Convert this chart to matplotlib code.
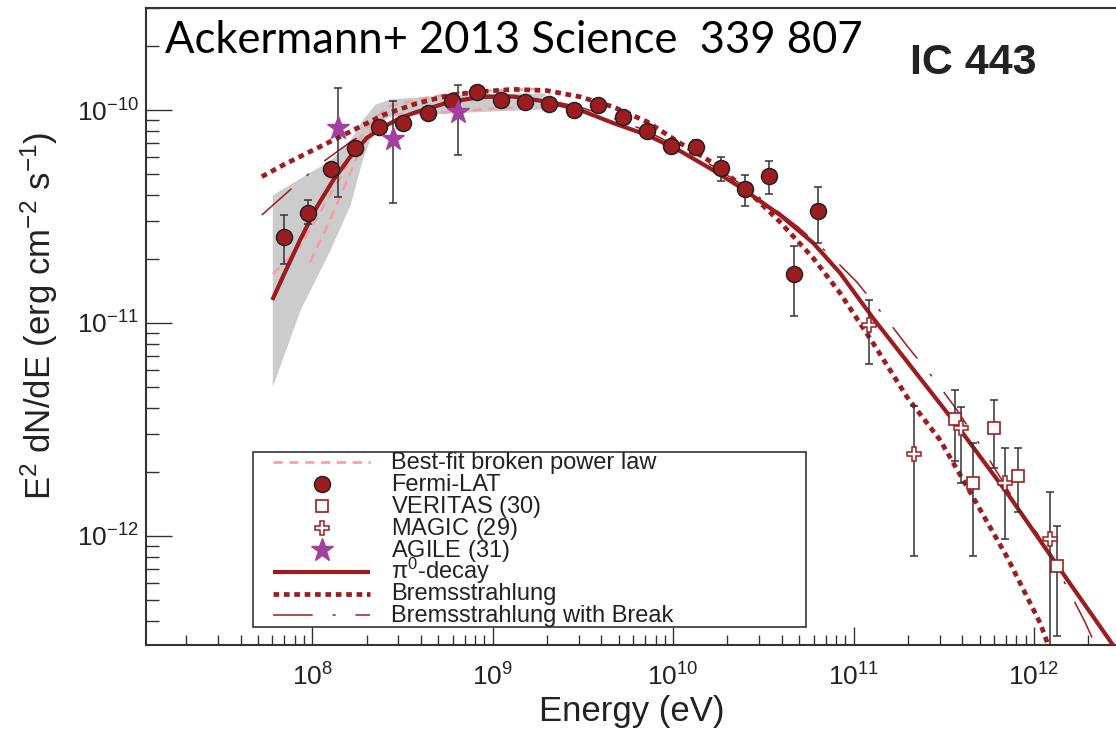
import numpy as np
import matplotlib
matplotlib.use('Agg')
import matplotlib.pyplot as plt
from matplotlib.patches import Rectangle
from matplotlib.lines import Line2D
from matplotlib.ticker import NullFormatter, LogLocator

plt.rcParams['font.family'] = ['Liberation Sans', 'DejaVu Sans']
plt.rcParams['mathtext.fontset'] = 'custom'
plt.rcParams['mathtext.rm'] = 'Liberation Sans'
plt.rcParams['mathtext.it'] = 'Liberation Sans:italic'
plt.rcParams['mathtext.bf'] = 'Liberation Sans:bold'

# ── data points: energy (eV), E^2 dN/dE (erg cm^-2 s^-1), lower / upper bounds ──
fermi_E = [6.94e7, 9.43e7, 1.27e8, 1.73e8, 2.33e8, 3.19e8, 4.36e8, 5.93e8,
           8.15e8, 1.11e9, 1.51e9, 2.06e9, 2.82e9, 3.85e9, 5.26e9, 7.14e9,
           9.70e9, 1.34e10, 1.84e10, 2.50e10, 3.41e10, 4.68e10, 6.38e10]
fermi_F = [2.54e-11, 3.30e-11, 5.27e-11, 6.65e-11, 8.35e-11, 8.72e-11, 9.65e-11, 1.10e-10,
           1.22e-10, 1.11e-10, 1.09e-10, 1.07e-10, 1.00e-10, 1.055e-10, 9.30e-11, 7.97e-11,
           6.78e-11, 6.68e-11, 5.33e-11, 4.25e-11, 4.90e-11, 1.70e-11, 3.37e-11]
fermi_lo = [1.89e-11, 2.92e-11, 5.10e-11, 6.45e-11, 8.15e-11, 8.50e-11, 9.45e-11, 1.07e-10,
            1.19e-10, 1.08e-10, 1.06e-10, 1.04e-10, 0.97e-10, 1.02e-10, 8.95e-11, 7.60e-11,
            6.40e-11, 6.15e-11, 4.66e-11, 3.54e-11, 4.04e-11, 1.08e-11, 2.37e-11]
fermi_hi = [3.20e-11, 3.77e-11, 5.45e-11, 6.85e-11, 8.55e-11, 8.95e-11, 9.85e-11, 1.13e-10,
            1.25e-10, 1.14e-10, 1.12e-10, 1.10e-10, 1.03e-10, 1.09e-10, 9.65e-11, 8.35e-11,
            7.15e-11, 7.23e-11, 6.00e-11, 4.96e-11, 5.76e-11, 2.30e-11, 4.35e-11]

agile_E = [1.39e8, 2.79e8, 6.40e8]
agile_F = [8.20e-11, 7.31e-11, 9.75e-11]
agile_lo = [3.92e-11, 3.65e-11, 6.13e-11]
agile_hi = [1.27e-10, 1.106e-10, 1.31e-10]

magic_E = [1.22e11, 2.17e11, 3.93e11, 6.89e11, 1.22e12]
magic_F = [9.78e-12, 2.42e-12, 3.22e-12, 1.78e-12, 9.68e-13]
magic_lo = [6.42e-12, 8.05e-13, 1.77e-12, 9.68e-13, 2.0e-13]
magic_hi = [1.28e-11, 4.07e-12, 4.02e-12, 2.58e-12, 1.61e-12]

veritas_E = [3.65e11, 4.61e11, 6.01e11, 8.17e11, 1.34e12]
veritas_F = [3.54e-12, 1.78e-12, 3.22e-12, 1.92e-12, 7.23e-13]
veritas_lo = [2.25e-12, 8.05e-13, 2.09e-12, 1.29e-12, 3.39e-13]
veritas_hi = [4.85e-12, 2.72e-12, 4.34e-12, 2.58e-12, 1.11e-12]

# ── model curves, stored as log10(E) / log10(E^2 dN/dE) ──
pi0_logE = [7.778, 7.839, 7.932, 8.025, 8.116, 8.209, 8.302, 8.394, 8.486, 8.579,
            8.763, 8.946, 9.113, 9.301, 9.484, 9.667, 9.855, 10.038, 10.221, 10.371,
            10.593, 10.776, 10.925, 11.108, 11.563, 11.851, 12.128, 12.438, 12.477]
pi0_logF = [-10.892, -10.779, -10.610, -10.455, -10.329, -10.221, -10.131, -10.080, -10.038, -10.009,
            -9.962, -9.937, -9.937, -9.961, -10.000, -10.061, -10.117, -10.192, -10.282, -10.362,
            -10.493, -10.624, -10.765, -10.977, -11.469, -11.798, -12.136, -12.512, -12.535]

brems_logE = [7.720, 7.839, 8.024, 8.209, 8.394, 8.579, 8.763, 8.930, 9.113, 9.301,
              9.484, 9.667, 9.855, 10.038, 10.221, 10.409, 10.593, 10.776, 10.925, 11.108,
              11.296, 11.479, 11.662, 11.851, 12.034, 12.089]
brems_logF = [-10.313, -10.258, -10.180, -10.102, -10.023, -9.969, -9.930, -9.914, -9.903, -9.909,
              -9.938, -9.985, -10.055, -10.155, -10.249, -10.376, -10.526, -10.695, -10.859, -11.094,
              -11.347, -11.549, -11.817, -12.099, -12.408, -12.535]

brk_logE = [7.720, 7.886, 8.059, 8.226, 8.392, 8.581, 8.763, 8.946, 9.113, 9.301,
            9.484, 9.667, 9.855, 10.038, 10.221, 10.409, 10.520, 10.692, 10.869, 11.019,
            11.174, 11.302, 11.451, 11.573, 11.712, 11.812, 11.950, 12.017, 12.183, 12.283, 12.328]
brk_logF = [-10.493, -10.368, -10.244, -10.141, -10.066, -10.009, -9.972, -9.944, -9.939, -9.953,
            -9.986, -10.038, -10.099, -10.178, -10.263, -10.366, -10.437, -10.549, -10.681, -10.808,
            -10.972, -11.113, -11.268, -11.408, -11.587, -11.723, -11.915, -11.986, -12.239, -12.404, -12.488]

# broken power law: two dashed branches and the grey uncertainty band
bpl_a_logE = [7.782, 7.849, 7.932, 8.043, 8.154, 8.253, 8.331, 8.431, 8.597, 8.797, 8.946, 9.262]
bpl_a_logF = [-10.770, -10.714, -10.638, -10.479, -10.319, -10.150, -10.047, -9.981, -9.948, -9.920, -9.911, -9.901]
bpl_b_logE = [7.987, 8.081, 8.170, 8.264, 8.331, 8.403, 8.542, 8.691, 8.858, 9.024, 9.246]
bpl_b_logF = [-10.714, -10.549, -10.376, -10.188, -10.085, -10.028, -10.014, -10.013, -10.003, -9.992, -9.986]

band_logE = [7.778, 7.932, 8.098, 8.209, 8.276, 8.348, 8.431, 8.652, 8.874, 9.151, 9.290]
band_up_logF = [-10.399, -10.319, -10.235, -10.141, -10.047, -9.972, -9.948, -9.934, -9.925, -9.920, -9.920]
band_lo_logF = [-11.299, -10.939, -10.657, -10.446, -10.235, -10.070, -10.028, -10.019, -10.009, -10.000, -9.995]

legend_labels = ['Best-fit broken power law', 'Fermi-LAT', r'VERITAS ($\it{30}$)', r'MAGIC ($\it{29}$)',
                 r'AGILE ($\it{31}$)', r'$\mathrm{\pi}^{0}$-decay', 'Bremsstrahlung',
                 'Bremsstrahlung with Break']

DARKRED = '#9c1c20'
PINK = '#f5a0a0'
AGILE_C = '#a3409f'
GREY = '#333333'

# line / marker styles shared by the plot and the legend
sty_bpl = dict(color=PINK, lw=1.9, ls=(0, (3.5, 2.5)))
sty_pi0 = dict(color=DARKRED, lw=3.0, solid_capstyle='butt')
sty_brems = dict(color=DARKRED, lw=3.4, ls=(0, (1.2, 1.0)), dash_capstyle='butt')
sty_brk = dict(color=DARKRED, lw=1.1, ls=(0, (26, 13, 2, 13)))
sty_fermi = dict(marker='o', ms=11.5, mfc=DARKRED, mec='#222222', mew=1.1, ls='none')
sty_ver = dict(marker='s', ms=8.5, mfc='white', mec=DARKRED, mew=1.2, ls='none')
sty_mag = dict(marker='P', ms=9.5, mfc='white', mec=DARKRED, mew=1.1, ls='none')
sty_agile = dict(marker='*', ms=17, mfc=AGILE_C, mec=AGILE_C, ls='none')

fig = plt.figure(figsize=(11.16, 7.33), dpi=100)
ax = fig.add_axes([146 / 1116, 88 / 733, 972 / 1116, 637 / 733])
ax.set_xscale('log')
ax.set_yscale('log')

# uncertainty band and broken power law
ax.fill_between(10 ** np.array(band_logE), 10 ** np.array(band_lo_logF), 10 ** np.array(band_up_logF),
                color='#cccccc', lw=0, zorder=1)
ax.plot(10 ** np.array(bpl_a_logE), 10 ** np.array(bpl_a_logF), zorder=2, **sty_bpl)
ax.plot(10 ** np.array(bpl_b_logE), 10 ** np.array(bpl_b_logF), zorder=2, **sty_bpl)

# model curves
ax.plot(10 ** np.array(pi0_logE), 10 ** np.array(pi0_logF), zorder=3, **sty_pi0)
ax.plot(10 ** np.array(brems_logE), 10 ** np.array(brems_logF), zorder=3, **sty_brems)
ax.plot(10 ** np.array(brk_logE), 10 ** np.array(brk_logF), zorder=3, **sty_brk)

# error bars
err_kw = dict(fmt='none', ecolor=GREY, elinewidth=1.1, capsize=2.8, capthick=1.1, zorder=4)
for E, F, lo, hi in [(fermi_E, fermi_F, fermi_lo, fermi_hi),
                     (agile_E, agile_F, agile_lo, agile_hi),
                     (magic_E, magic_F, magic_lo, magic_hi),
                     (veritas_E, veritas_F, veritas_lo, veritas_hi)]:
    F = np.array(F)
    ax.errorbar(E, F, yerr=[F - np.array(lo), np.array(hi) - F], **err_kw)

# markers
ax.plot(fermi_E, fermi_F, zorder=5, **sty_fermi)
ax.plot(veritas_E, veritas_F, zorder=5, **sty_ver)
ax.plot(magic_E, magic_F, zorder=5, **sty_mag)
ax.plot(agile_E, agile_F, zorder=6, **sty_agile)

ax.set_xlim(10 ** 7.078, 10 ** 12.466)
ax.set_ylim(10 ** -12.512, 10 ** -9.521)

# axes frame and ticks
for side in ['left', 'bottom', 'top']:
    ax.spines[side].set_color(GREY)
    ax.spines[side].set_linewidth(1.5)
ax.spines['right'].set_visible(False)

ax.xaxis.set_minor_locator(LogLocator(base=10, subs=np.arange(2, 10)))
ax.yaxis.set_minor_locator(LogLocator(base=10, subs=np.arange(2, 10)))
ax.xaxis.set_minor_formatter(NullFormatter())
ax.yaxis.set_minor_formatter(NullFormatter())
ax.tick_params(axis='both', which='both', direction='in', colors=GREY, labelcolor='#222222',
               labelsize=19, top=False, right=False)
ax.tick_params(axis='x', which='major', length=13, width=1.0, pad=13)
ax.tick_params(axis='x', which='minor', length=7, width=1.0)
ax.tick_params(axis='y', which='major', length=19, width=1.0, pad=5)
ax.tick_params(axis='y', which='minor', length=9.5, width=1.0)

ax.set_xlabel('Energy (eV)', fontsize=25, color='#222222')
ax.set_ylabel(r'E$^{2}$ dN/dE (erg cm$^{-2}$ s$^{-1}$)', fontsize=25, color='#222222')
ax.xaxis.set_label_coords(0.5, -0.078)
ax.yaxis.set_label_coords(-0.0885, 0.5165)

ax.text(0.0195, 0.929, 'Ackermann+ 2013 Science  339 807', transform=ax.transAxes,
        fontsize=31.4, family='Lato', color='black', va='baseline', ha='left', zorder=7)
ax.text(0.786, 0.896, 'IC 443', transform=ax.transAxes, fontsize=31, fontweight='bold',
        color='#222222', va='baseline', ha='left', zorder=7)

# legend: framed box with one row per entry
ax.add_patch(Rectangle((0.110, 0.0283), 0.569, 0.2747, transform=ax.transAxes,
                       facecolor='white', edgecolor=GREY, lw=1.2, zorder=8))
legend_styles = [sty_bpl, sty_fermi, sty_ver, sty_mag, sty_agile, sty_pi0, sty_brems, sty_brk]
row_top, row_step = 0.2865, 0.0343          # axes fraction: first row, spacing
x_h0, x_h1, x_txt = 0.1307, 0.2305, 0.2521
for i, (lab, sty) in enumerate(zip(legend_labels, legend_styles)):
    yrow = row_top - i * row_step
    if sty.get('marker'):
        h = Line2D([(x_h0 + x_h1) / 2], [yrow], transform=ax.transAxes, zorder=9, **sty)
    else:
        h = Line2D([x_h0, x_h1], [yrow, yrow], transform=ax.transAxes, zorder=9, **sty)
    h.set_clip_on(False)
    ax.add_line(h)
    ax.text(x_txt, yrow - 0.0105, lab, transform=ax.transAxes, fontsize=17, color='#222222',
            va='baseline', ha='left', zorder=9)

fig.savefig('out.png', dpi=100)
